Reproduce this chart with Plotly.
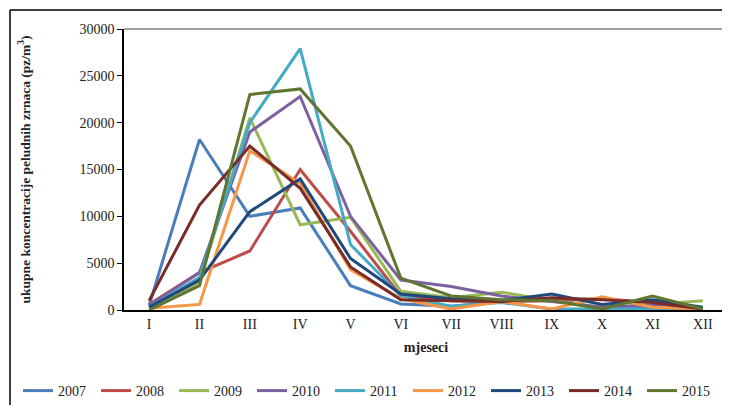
import plotly.graph_objects as go

months = ["I", "II", "III", "IV", "V", "VI", "VII", "VIII", "IX", "X", "XI", "XII"]
years = ["2007", "2008", "2009", "2010", "2011", "2012", "2013", "2014", "2015"]

v2007 = [500, 18200, 10000, 10900, 2600, 650, 400, 900, 1200, 100, 200, 100]
v2008 = [600, 4000, 6300, 15000, 8400, 1500, 1000, 900, 1000, 1200, 800, 100]
v2009 = [100, 3000, 20500, 9100, 9900, 2000, 1300, 1900, 1000, 300, 600, 1000]
v2010 = [500, 4000, 19000, 22800, 10000, 3200, 2500, 1500, 900, 300, 500, 100]
v2011 = [300, 3500, 20000, 27900, 7000, 1500, 400, 800, 100, 100, 100, 100]
v2012 = [200, 600, 17000, 13500, 4300, 1200, 100, 900, 100, 1400, 300, 100]
v2013 = [300, 3200, 10500, 14000, 5500, 1700, 1200, 1000, 1700, 600, 1100, 300]
v2014 = [1000, 11200, 17500, 13000, 4600, 1100, 1000, 900, 1300, 1100, 800, 100]
v2015 = [0, 2600, 23000, 23600, 17500, 3400, 1500, 1100, 1000, 100, 1500, 100]

series = [v2007, v2008, v2009, v2010, v2011, v2012, v2013, v2014, v2015]
colors = ["#4A7EBB", "#BE4B48", "#98B954", "#7D60A0", "#46AAC5", "#F79646",
          "#1F497D", "#772C2A", "#5F7530"]

SERIF = "Liberation Serif, Times New Roman, serif"

fig = go.Figure()
for name, vals, col in zip(years, series, colors):
    fig.add_trace(go.Scatter(x=months, y=vals, name=name, mode="lines",
                             line=dict(color=col, width=3)))

# the page body has an 8px default margin; work in window pixels and offset
OFF = 8
W, H = 730 - OFF, 405 - OFF
L, R, T, B = 124 - OFF, 728 - OFF, 29 - OFF, 310 - OFF
pw, ph = R - L, B - T

def px(x):
    return (x - OFF - L) / pw

def py(y):
    return (B - (y - OFF)) / ph

fig.update_layout(
    width=W, height=H,
    margin=dict(l=L, r=W - R, t=T, b=H - B, autoexpand=False),
    paper_bgcolor="white", plot_bgcolor="white",
    font=dict(family=SERIF, size=14, color="#222"),
    showlegend=True,
    legend=dict(orientation="h", x=px(18), xanchor="left", y=py(391), yanchor="middle",
                font=dict(family=SERIF, size=14, color="#222"),
                itemwidth=30, entrywidth=33, entrywidthmode="pixels",
                tracegroupgap=0, bgcolor="rgba(0,0,0,0)"),
    xaxis=dict(type="category", showgrid=False, showline=True, linecolor="black",
               linewidth=1.5, ticks="", tickfont=dict(family=SERIF, size=14),
               title=dict(text="<b>mjeseci</b>", font=dict(family=SERIF, size=14), standoff=12),
               range=[-0.5, 11.5]),
    yaxis=dict(range=[0, 30000], dtick=5000, tickformat="d", showgrid=False, showline=True,
               linecolor="black", linewidth=1.5, ticks="outside", ticklen=5,
               tickcolor="black", tickfont=dict(family=SERIF, size=14),
               title=dict(text="<b>ukupne koncentracije peludnih zrnaca (pz/m<sup>3</sup>)</b>",
                          font=dict(family=SERIF, size=13.5), standoff=46)),
    shapes=[
        dict(type="line", xref="paper", yref="paper", x0=0, x1=1, y0=1, y1=1,
             line=dict(color="#A0A0A0", width=2)),
        dict(type="line", xref="paper", yref="paper", x0=1, x1=1, y0=0, y1=1,
             line=dict(color="#A0A0A0", width=2)),
        dict(type="line", xref="paper", yref="paper", x0=px(10), x1=px(730),
             y0=py(10), y1=py(10), line=dict(color="black", width=1.5)),
        dict(type="line", xref="paper", yref="paper", x0=px(10), x1=px(10),
             y0=py(10), y1=py(405), line=dict(color="black", width=1.5)),
    ],
)

fig.write_html("out.html")
